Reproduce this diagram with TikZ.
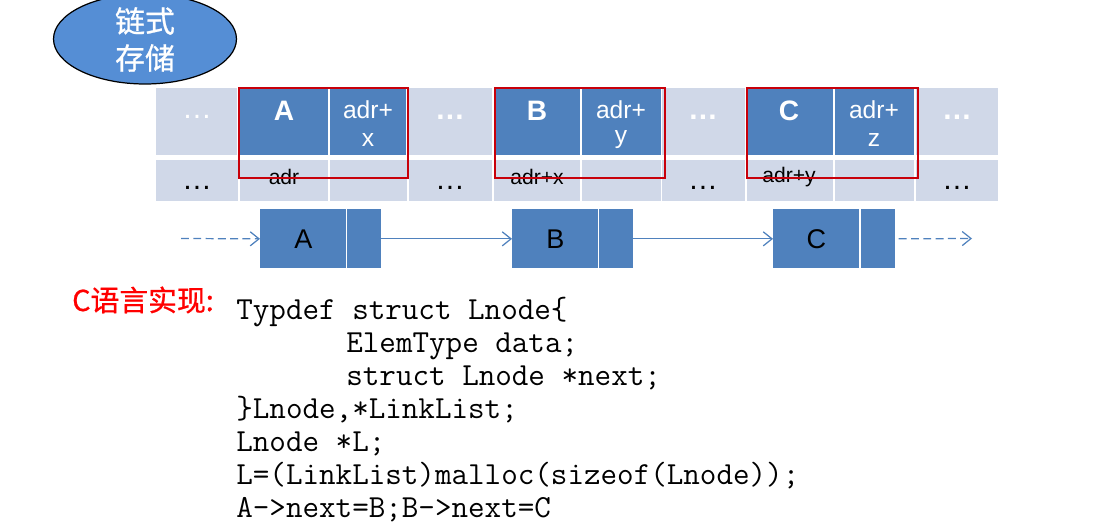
\documentclass[tikz,border=0pt]{standalone}
\usepackage{fontspec}
\setmainfont{Liberation Sans}
\newfontfamily\cjk[FakeBold=0.8]{Noto Sans CJK SC}
\usetikzlibrary{arrows.meta, positioning, shapes.geometric}
\definecolor{cellblue}{HTML}{4F81BD}
\definecolor{celllight}{HTML}{D0D8E8}
\definecolor{ovalblue}{HTML}{558ED5}
\definecolor{boxred}{HTML}{C8000A}
\tikzset{
  cell/.style={rectangle, inner sep=0pt, anchor=north west},
  lightcell/.style={cell, fill=celllight},
  darkcell/.style={cell, fill=cellblue},
  frame/.style={cell, draw=boxred, line width=1.1pt},
  link/.style={cellblue, line width=0.7pt, -{Straight Barb[length=5pt,width=8pt]}},
  dashlink/.style={link, dash pattern=on 4.5pt off 2.5pt},
  codeline/.style={anchor=base west, inner sep=0pt, font=\ttfamily\fontsize{18.3}{20}\selectfont},
}
\begin{document}
\begin{tikzpicture}[x=0.02cm, y=-0.02cm]
  \useasboundingbox (0,0) rectangle (1120,524);
  % Title oval
  \node[ellipse, draw=black, line width=0.7pt, fill=ovalblue, minimum width=3.66cm, minimum height=1.8cm, inner sep=0pt] (oval) at (145,39) {};
  \node[white, font=\cjk\fontsize{17}{20}\selectfont] (ovalA) at (145,21) {链式};
  \node[white, font=\cjk\fontsize{17}{20}\selectfont] (ovalB) at (145,58) {存储};
  % Memory rows, light cells
  \foreach \nm/\xa/\xb in {a/156/237, b/409/492, c/662/745, d/916/998} {
    \node[lightcell, minimum width=(\xb-\xa)*0.02cm, minimum height=1.34cm] (top\nm) at (\xa,88) {};
  }
  \foreach \nm/\xa/\xb in {a/156/238, b/240/328, c/330/407, d/409/492, e/494/580, f/582/661, g/662/745, h/747/833, i/835/914, j/916/998} {
    \node[lightcell, minimum width=(\xb-\xa)*0.02cm, minimum height=0.82cm] (low\nm) at (\xa,160) {};
  }
  % Memory rows, data cells
  \foreach \nm/\xa/\xb in {A/240/328, Ax/330/406, B/494/580, By/582/661, C/747/833, Cz/835/914} {
    \node[darkcell, minimum width=(\xb-\xa)*0.02cm, minimum height=1.34cm] (mem\nm) at (\xa,88) {};
  }
  % Cell texts
  \foreach \nm/\xc/\txt in {A/284/A, B/537/B, C/789/C} {
    \node[white, font=\bfseries\fontsize{16}{19}\selectfont] (lab\nm) at (\xc,111) {\txt};
  }
  \foreach \nm/\xc/\txt in {x/368/x, y/621/y, z/874/z} {
    \node[white, font=\fontsize{14}{17}\selectfont] (adrtop\nm) at (\xc,110) {adr+};
    \node[white, font=\fontsize{14}{17}\selectfont] (adrbot\nm) at (\xc,140) {\txt};
  }
  \node[white, font=\fontsize{17}{20}\selectfont] (dotsA) at (197,117) {…};
  \node[white, font=\bfseries\fontsize{17}{20}\selectfont] (dotsB) at (450,117) {…};
  \node[white, font=\bfseries\fontsize{17}{20}\selectfont] (dotsC) at (703,117) {…};
  \node[white, font=\bfseries\fontsize{17}{20}\selectfont] (dotsD) at (957,117) {…};
  \foreach \nm/\xc in {E/197, F/450, G/703, H/957} {
    \node[font=\fontsize{17}{20}\selectfont] (dots\nm) at (\xc,188) {…};
  }
  \node[font=\fontsize{12}{14}\selectfont] (adrA) at (284,177) {adr};
  \node[font=\fontsize{12}{14}\selectfont] (adrB) at (537,177) {adr+x};
  \node[font=\fontsize{12}{14}\selectfont] (adrC) at (789,177) {adr+y};
  % Red frames
  \node[frame, minimum width=3.38cm, minimum height=1.8cm] (frameA) at (238,87) {};
  \node[frame, minimum width=3.4cm, minimum height=1.8cm] (frameB) at (494,87) {};
  \node[frame, minimum width=3.42cm, minimum height=1.8cm] (frameC) at (746,87) {};
  % Linked nodes
  \foreach \nm/\xa/\xb/\xc/\txt in {A/260/346/347/A, B/512/598/599/B, C/773/859/861/C} {
    \node[darkcell, minimum width=(\xb-\xa)*0.02cm, minimum height=1.18cm, font=\fontsize{15.4}{18}\selectfont] (data\nm) at (\xa,209) {\txt};
    \node[darkcell, minimum width=0.67cm, minimum height=1.18cm] (next\nm) at (\xc,209) {};
  }
  % Links
  \coordinate (inlet) at (181,238.5);
  \coordinate (outlet) at (972,238.5);
  \draw[dashlink] (inlet) -- (dataA.west);
  \draw[link] (nextA.east) -- (dataB.west);
  \draw[link] (nextB.east) -- (dataC.west);
  \draw[dashlink] ([xshift=2pt]nextC.east) -- (outlet);
  % Code
  \node[red, font=\cjk\fontsize{16.4}{19}\selectfont] (lang) at (143,300) {C语言实现:};
  \node[codeline] (line1) at (236,319) {Typdef struct Lnode\{};
  \node[codeline] (line2) at (346,352) {ElemType data;};
  \node[codeline] (line3) at (346,385) {struct Lnode *next;};
  \node[codeline] (line4) at (236,418) {\}Lnode,*LinkList;};
  \node[codeline] (line5) at (236,451) {Lnode *L;};
  \node[codeline] (line6) at (236,484) {L=(LinkList)malloc(sizeof(Lnode));};
  \node[codeline] (line7) at (236,517) {A->next=B;B->next=C};
\end{tikzpicture}
\end{document}
